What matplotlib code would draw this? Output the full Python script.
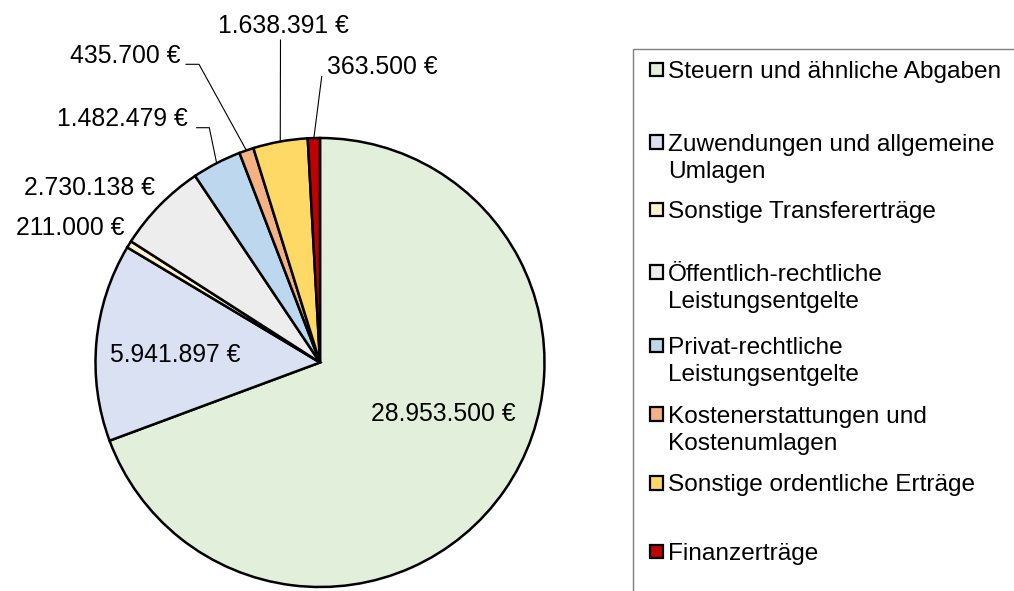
import numpy as np
import matplotlib.pyplot as plt
from matplotlib.patches import Rectangle

plt.rcParams['font.family'] = ['Liberation Sans', 'DejaVu Sans']

# Erträge (Kategorien und Beträge in Euro)
categories = [
    "Steuern und ähnliche Abgaben",
    "Zuwendungen und allgemeine\nUmlagen",
    "Sonstige Transfererträge",
    "Öffentlich-rechtliche\nLeistungsentgelte",
    "Privat-rechtliche\nLeistungsentgelte",
    "Kostenerstattungen und\nKostenumlagen",
    "Sonstige ordentliche Erträge",
    "Finanzerträge",
]
values = [28953500, 5941897, 211000, 2730138, 1482479, 435700, 1638391, 363500]
colors = ["#E2EFDA", "#D9E1F2", "#FFF2CC", "#EDEDED",
          "#BDD7EE", "#F4B183", "#FFD966", "#C00000"]


def fmt(v):
    return f"{v:,}".replace(",", ".") + " €"


W, H = 1014, 591
fig = plt.figure(figsize=(W / 100, H / 100), dpi=100)

# Lage des Kreises in Pixeln
cx, cy, r = 320, 362.5, 224.5
ax = fig.add_axes([(cx - r) / W, (H - cy - r) / H, 2 * r / W, 2 * r / H])

wedges, _ = ax.pie(values, colors=colors, startangle=90, counterclock=False,
                   wedgeprops=dict(edgecolor="black", linewidth=1.8))
for w in wedges:
    w.set_clip_on(False)
ax.set_xlim(-1, 1)
ax.set_ylim(-1, 1)
ax.axis("off")


def d(x, y):
    # Pixel -> Datenkoordinaten
    return (x - cx) / r, (cy - y) / r


# Beschriftungen (Position in Pixeln, Ausrichtung)
label_pos = [(443.5, 414, "center"), (175, 355, "center"), (124, 228, "right"),
             (155, 188, "right"), (188, 119, "right"), (180, 56, "right"),
             (283.5, 26, "center"), (327, 67, "left")]
for v, (x, y, ha) in zip(values, label_pos):
    tx, ty = d(x, y)
    ax.text(tx, ty, fmt(v), ha=ha, va="center", fontsize=17.8, color="black")

# Führungslinien
leaders = {4: [(209.3, 127.7), (196.7, 127.7)],
           5: [(199, 64.3), (186, 64.3)],
           6: [(280.5, 40)],
           7: [(321.7, 76.7)]}
for i, pts in leaders.items():
    w = wedges[i]
    ang = np.deg2rad((w.theta1 + w.theta2) / 2)
    xs = [np.cos(ang)] + [d(*p)[0] for p in pts]
    ys = [np.sin(ang)] + [d(*p)[1] for p in pts]
    ax.plot(xs, ys, color="black", linewidth=0.8, clip_on=False)

# Legende (von Hand, Einträge oben ausgerichtet wie in Excel)
fig.add_artist(Rectangle((632.7 / W, -0.05), 1.0, 1 - 49 / H + 0.05,
                         transform=fig.transFigure, facecolor="none",
                         edgecolor="#7F7F7F", linewidth=1.0))
legend_y = [69.2, 141.8, 209.2, 271.8, 345, 413.8, 482.7, 551.2]
for lab, col, y in zip(categories, colors, legend_y):
    fig.add_artist(Rectangle((649.5 / W, 1 - (y + 6.8) / H), 13.2 / W, 13.2 / H,
                             transform=fig.transFigure, facecolor=col,
                             edgecolor="black", linewidth=1.6))
    for k, line in enumerate(lab.split("\n")):
        fig.text(668 / W, 1 - (y + 8.8 + 27.5 * k) / H, line,
                 ha="left", va="baseline", fontsize=17.6, color="black")

fig.savefig("out.png", dpi=100)
